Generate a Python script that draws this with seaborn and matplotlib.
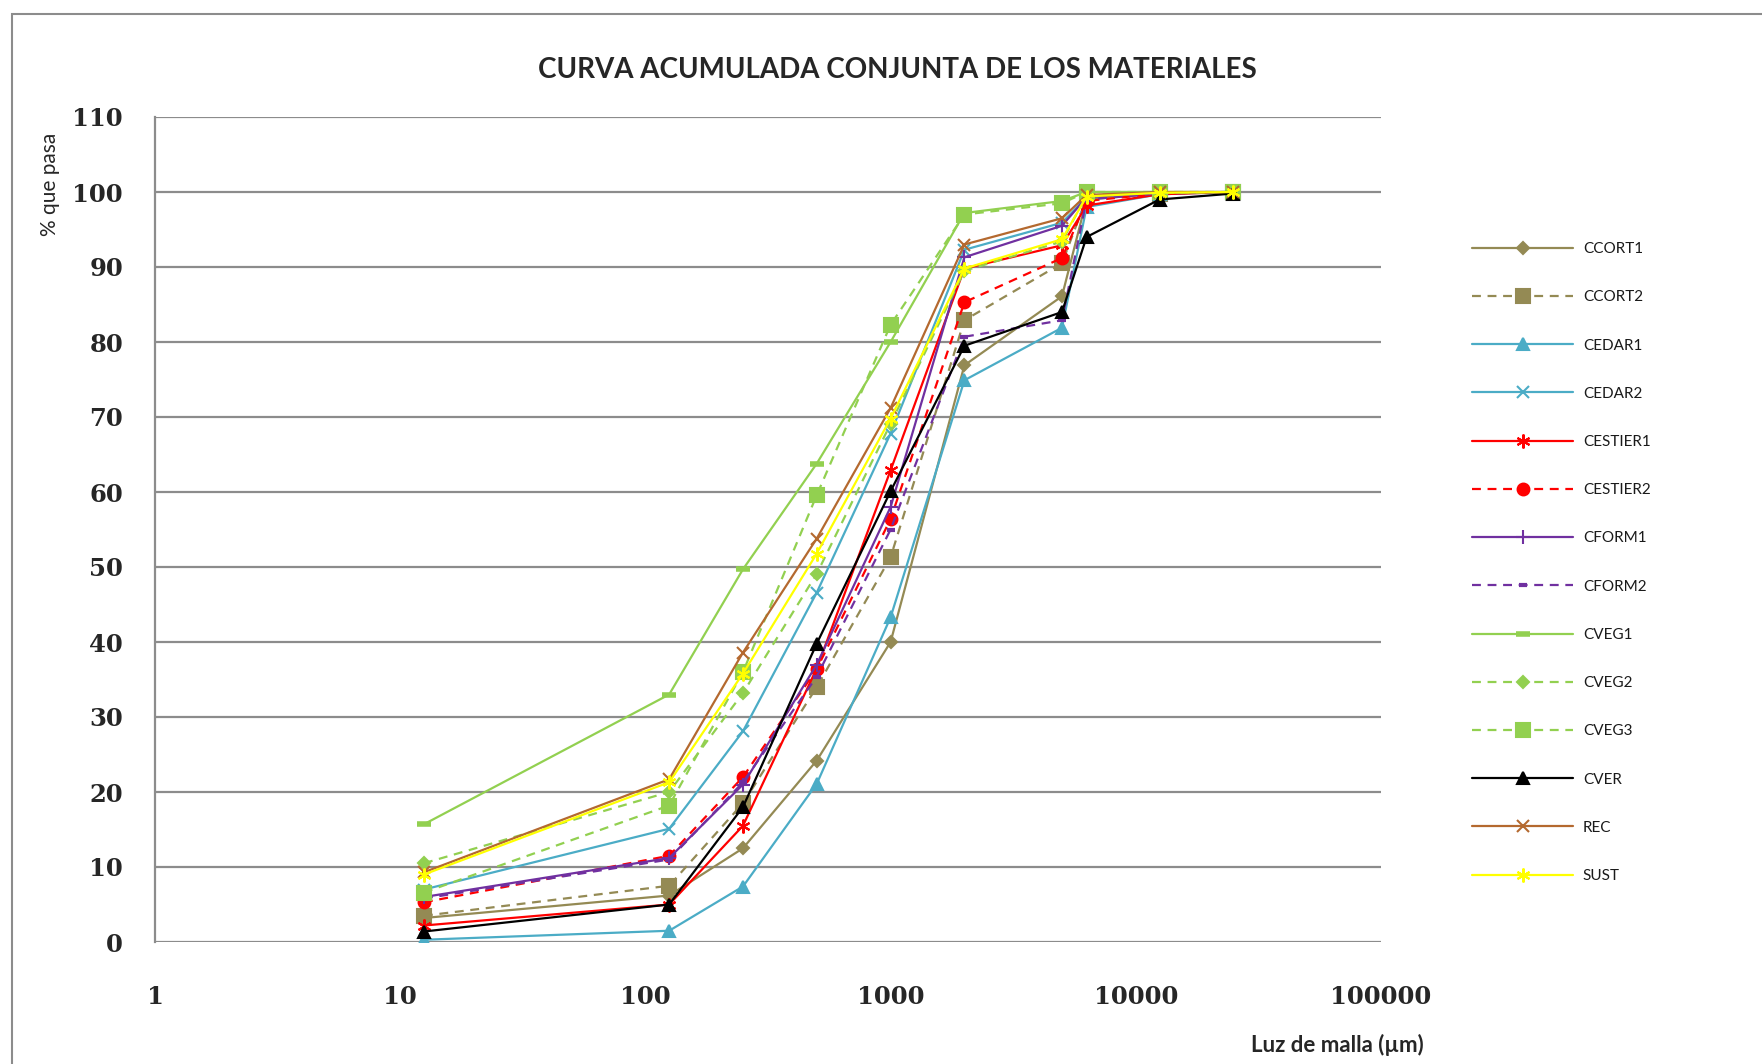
import matplotlib
matplotlib.use("Agg")
import matplotlib.pyplot as plt
import seaborn as sns
import pandas as pd
from matplotlib.patches import Rectangle

sns.set_theme(style="white")
plt.rcParams['font.family'] = ['Lato', 'DejaVu Sans']

# ---------------- data ----------------
mesh = [12.5, 125, 250, 500, 1000, 2000, 5000, 6300, 12500, 25000]
series_names = ["CCORT1", "CCORT2", "CEDAR1", "CEDAR2", "CESTIER1", "CESTIER2",
                "CFORM1", "CFORM2", "CVEG1", "CVEG2", "CVEG3", "CVER", "REC", "SUST"]
CCORT1 = [3.2, 6.2, 12.5, 24.2, 40.0, 76.9, 86.1, 99.0, 99.8, 100]
CCORT2 = [3.5, 7.5, 18.5, 34.0, 51.3, 82.9, 90.5, 99.2, 99.8, 100]
CEDAR1 = [0.3, 1.5, 7.4, 21.1, 43.3, 74.9, 81.9, 98.0, 99.7, 100]
CEDAR2 = [7.0, 15.1, 28.1, 46.6, 67.8, 92.3, 95.9, 99.3, 99.9, 100]
CESTIER1 = [2.2, 5.0, 15.5, 36.5, 62.9, 89.8, 92.9, 98.2, 99.7, 100]
CESTIER2 = [5.3, 11.5, 22.0, 36.4, 56.4, 85.3, 91.2, 98.8, 99.8, 100]
CFORM1 = [6.0, 11.2, 21.0, 37.0, 58.0, 91.3, 95.5, 99.3, 99.9, 100]
CFORM2 = [5.8, 11.0, 21.3, 35.4, 55.0, 80.7, 82.9, 99.0, 99.8, 100]
CVEG1 = [15.7, 33.0, 49.7, 63.8, 80.0, 97.2, 98.8, 100, 100, 100]
CVEG2 = [10.5, 20.0, 33.2, 49.1, 69.1, 89.5, 93.4, 99.6, 99.9, 100]
CVEG3 = [6.6, 18.2, 36.0, 59.6, 82.3, 97.0, 98.5, 100, 100, 100]
CVER = [1.4, 5.0, 18.0, 39.8, 60.1, 79.5, 84.0, 94.0, 99.0, 99.8]
REC = [9.3, 21.7, 38.6, 53.8, 71.2, 93.0, 96.5, 99.6, 100, 100]
SUST = [9.0, 21.3, 35.8, 51.8, 69.8, 89.8, 93.7, 99.4, 99.9, 100]
values = [CCORT1, CCORT2, CEDAR1, CEDAR2, CESTIER1, CESTIER2, CFORM1, CFORM2,
          CVEG1, CVEG2, CVEG3, CVER, REC, SUST]
y_ticks = [0, 10, 20, 30, 40, 50, 60, 70, 80, 90, 100, 110]
x_ticks = [1, 10, 100, 1000, 10000, 100000]

# ---------------- styles ----------------
OLIVE = "#948A54"
AQUA = "#4BACC6"
RED = "#FF0000"
PURPLE = "#7030A0"
GREEN = "#92D050"
BLACK = "#000000"
BROWN = "#B4692F"
YELLOW = "#FFFF00"
DASH = (0, (4, 3))
AST = (6, 2, 0)
styles = {
    "CCORT1": dict(color=OLIVE, ls="-", marker="D", ms=6.5),
    "CCORT2": dict(color=OLIVE, ls=DASH, marker="s", ms=9.5),
    "CEDAR1": dict(color=AQUA, ls="-", marker="^", ms=8.5),
    "CEDAR2": dict(color=AQUA, ls="-", marker="x", ms=9),
    "CESTIER1": dict(color=RED, ls="-", marker=AST, ms=10),
    "CESTIER2": dict(color=RED, ls=DASH, marker="o", ms=8.5),
    "CFORM1": dict(color=PURPLE, ls="-", marker="+", ms=10),
    "CFORM2": dict(color=PURPLE, ls=DASH, marker="_", ms=6),
    "CVEG1": dict(color=GREEN, ls="-", marker="_", ms=10),
    "CVEG2": dict(color=GREEN, ls=DASH, marker="D", ms=6.5),
    "CVEG3": dict(color=GREEN, ls=DASH, marker="s", ms=9.5),
    "CVER": dict(color=BLACK, ls="-", marker="^", ms=8.5),
    "REC": dict(color=BROWN, ls="-", marker="x", ms=9),
    "SUST": dict(color=YELLOW, ls="-", marker=AST, ms=10),
}

rows = []
for name, vals in zip(series_names, values):
    for xv, yv in zip(mesh, vals):
        rows.append({"mesh": xv, "pct": yv, "serie": name})
df = pd.DataFrame(rows)

fig = plt.figure(figsize=(17.62, 10.64), dpi=100)
W, H = 1762, 1064
ax = fig.add_axes([155 / W, 1 - 942 / H, (1381 - 155) / W, (942 - 117) / H])

for name in series_names:
    st = styles[name]
    sub = df[df["serie"] == name]
    mew = 1.5
    if st["marker"] == "_":
        mew = 4 if name == "CVEG1" else 3
    sns.lineplot(data=sub, x="mesh", y="pct", ax=ax, color=st["color"],
                 linestyle=st["ls"], marker=st["marker"], markersize=st["ms"],
                 markeredgecolor=st["color"], markerfacecolor=st["color"],
                 markeredgewidth=mew, linewidth=1.6, label=name, sort=False,
                 estimator=None, errorbar=None)

ax.set_xscale("log")
ax.set_xlim(1, 100000)
ax.set_ylim(0, 110)
ax.set_xticks(x_ticks)
ax.set_xticklabels([str(t) for t in x_ticks])
ax.set_yticks(y_ticks)
ax.set_yticklabels([str(t) for t in y_ticks])
ax.minorticks_off()
ax.yaxis.grid(True, color="#8C8C8C", linewidth=1.6)
ax.xaxis.grid(False)
ax.set_axisbelow(True)
for s in ["top", "right", "bottom"]:
    ax.spines[s].set_visible(False)
ax.spines["left"].set_color("#8C8C8C")
ax.spines["left"].set_linewidth(1.6)
ax.tick_params(axis="both", length=0)
ax.tick_params(axis="x", pad=31)
ax.tick_params(axis="y", pad=23)
for lab in ax.get_xticklabels() + ax.get_yticklabels():
    lab.set_fontfamily("DejaVu Serif")
    lab.set_fontweight("bold")
    lab.set_fontsize(17.5)
ax.set_xlabel("")
ax.set_ylabel("")

leg = ax.legend(loc="upper left", bbox_to_anchor=(1466 / W, 1 - 236 / H),
                bbox_transform=fig.transFigure, frameon=False, fontsize=11,
                handlelength=6.6, labelspacing=2.24, handletextpad=0.65,
                borderaxespad=0)
for t in leg.get_texts():
    t.set_color("#1a1a1a")

fig.text(897 / W, 1 - 70 / H, "CURVA ACUMULADA CONJUNTA DE LOS MATERIALES",
         ha="center", va="center", fontsize=20, fontweight="bold")
fig.text(50 / W, 1 - 184 / H, "% que pasa", rotation=90, ha="center",
         va="center", fontsize=15)
fig.text(1337 / W, 1 - 1045 / H, "Luz de malla (µm)", ha="center",
         va="center", fontsize=16, fontweight="bold")

fig.patches.append(Rectangle((12 / W, -0.05), 1.2, 1 - 13.5 / H + 0.05,
                             transform=fig.transFigure, fill=False,
                             edgecolor="#8C8C8C", linewidth=1.5))

fig.savefig("out.png", dpi=100)
